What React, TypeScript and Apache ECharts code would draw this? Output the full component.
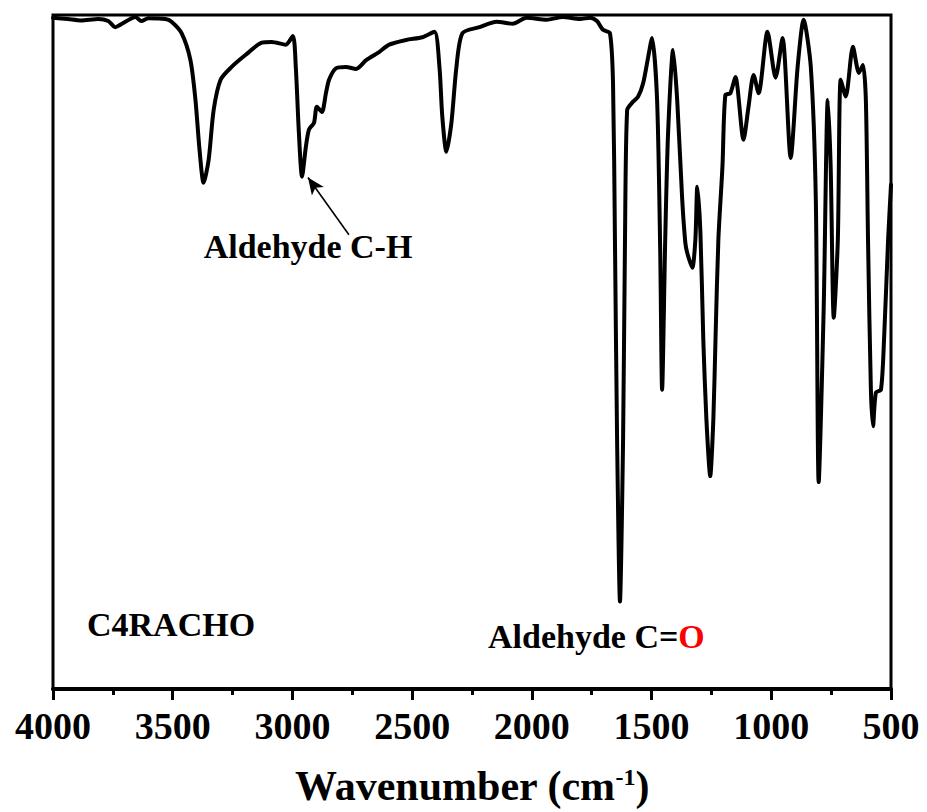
import React, { useEffect, useRef } from "react";
import * as echarts from "echarts";

const wavenumber = [
  4000, 3937, 3883, 3811, 3769, 3740, 3698, 3656, 3631, 3602, 3531, 3505, 3463, 3426, 3405, 3388,
  3371, 3350, 3329, 3300, 3254, 3195, 3128, 3086, 3028, 2998, 2986, 2973, 2960, 2944, 2931, 2910,
  2898, 2877, 2860, 2847, 2818, 2776, 2734, 2692, 2638, 2596, 2525, 2457, 2407, 2386, 2374, 2357,
  2336, 2315, 2290, 2219, 2147, 2080, 2022, 1938, 1871, 1799, 1757, 1728, 1703, 1674, 1661, 1653,
  1644, 1632, 1619, 1611, 1602, 1581, 1556, 1535, 1514, 1498, 1477, 1464, 1456, 1443, 1431, 1410,
  1393, 1372, 1359, 1351, 1330, 1317, 1309, 1296, 1284, 1271, 1255, 1242, 1233, 1221, 1204, 1192,
  1171, 1150, 1116, 1095, 1074, 1053, 1016, 982, 953, 919, 890, 865, 835, 814, 802, 781, 764, 752,
  739, 722, 710, 689, 659, 634, 617, 605, 596, 584, 575, 563, 542, 529, 512, 500,
];

const transmittance = [
  99.6, 99.4, 99.2, 99.4, 99.1, 98.2, 99.0, 99.7, 99.1, 99.5, 99.4, 99.0, 97.3, 93.3, 87.4, 80.0,
  75.1, 78.5, 85.9, 90.4, 92.3, 94.1, 95.9, 96.0, 95.6, 96.9, 92.3, 82.5, 76.0, 80.4, 83.0, 84.0,
  86.4, 85.6, 88.4, 90.4, 92.1, 92.3, 92.0, 93.3, 94.5, 95.6, 96.3, 96.7, 97.5, 92.3, 84.9, 79.7,
  84.0, 92.3, 97.3, 98.2, 99.0, 98.7, 99.6, 99.3, 99.7, 99.4, 99.6, 99.1, 97.8, 97.3, 89.9, 66.7,
  37.0, 13.0, 37.0, 66.7, 85.9, 87.0, 87.9, 89.9, 93.8, 96.6, 87.4, 65.2, 44.4, 66.7, 82.5, 94.8,
  87.4, 72.6, 66.2, 64.7, 62.5, 66.7, 74.5, 67.7, 51.9, 40.0, 31.6, 40.0, 51.9, 66.7, 77.5, 88.1,
  88.4, 90.8, 81.5, 86.4, 91.1, 88.4, 97.5, 90.7, 96.6, 78.8, 92.3, 99.3, 92.3, 72.6, 30.7, 56.7, 87.4, 77.5,
  55.1, 66.7, 90.4, 87.9, 95.3, 91.4, 92.6, 87.4, 66.7, 44.4, 39.0, 44.0, 44.4, 51.9, 66.7, 74.8,
];

const xTicks = [4000, 3500, 3000, 2500, 2000, 1500, 1000, 500];

// arrow annotation: tail and head in data coordinates
const arrowTail = [2764, 67.4];
const arrowHead = [2935, 75.9];

const FONT = '"Liberation Serif", "Times New Roman", serif';

export default function App() {
  const ref = useRef<HTMLDivElement>(null);

  useEffect(() => {
    if (!ref.current) return;
    document.body.style.margin = "0";
    const chart = echarts.init(ref.current, undefined, { renderer: "svg" });
    const data = wavenumber.map((w, i) => [w, transmittance[i]]);

    chart.setOption({
      animation: false,
      backgroundColor: "#fff",
      grid: {
        left: 53,
        right: 36,
        top: 15,
        bottom: 120,
        show: true,
        borderColor: "#000",
        borderWidth: 3,
        backgroundColor: "transparent",
      },
      xAxis: {
        type: "value",
        min: xTicks[xTicks.length - 1],
        max: xTicks[0],
        interval: 500,
        inverse: true,
        axisLine: { show: true, lineStyle: { color: "#000", width: 4 } },
        axisTick: { show: true, inside: false, length: 11, lineStyle: { color: "#000", width: 3 } },
        minorTick: { show: true, splitNumber: 2, length: 6, lineStyle: { color: "#000", width: 3 } },
        splitLine: { show: false },
        axisLabel: {
          color: "#000",
          fontFamily: FONT,
          fontWeight: "bold",
          fontSize: 38,
          margin: 18,
          formatter: (v: number) => String(v),
        },
        name: "Wavenumber (cm{sup|-1})",
        nameLocation: "middle",
        nameGap: 76,
        nameTextStyle: {
          color: "#000",
          fontFamily: FONT,
          fontWeight: "bold",
          fontSize: 42,
          rich: {
            sup: {
              color: "#000",
              fontFamily: FONT,
              fontWeight: "bold",
              fontSize: 24,
              verticalAlign: "top",
            },
          },
        },
      },
      yAxis: {
        type: "value",
        min: 0,
        max: 100,
        show: false,
      },
      series: [
        {
          type: "line",
          data,
          showSymbol: false,
          smooth: 0.25,
          lineStyle: { color: "#000", width: 4, join: "round", cap: "round" },
          markLine: {
            silent: true,
            symbol: ["none", "arrow"],
            symbolSize: [11, 17],
            label: { show: false },
            lineStyle: { color: "#000", width: 1.6, type: "solid" },
            data: [[{ coord: arrowTail }, { coord: arrowHead }]],
          },
        },
      ],
      graphic: [
        {
          type: "text",
          x: 308,
          y: 246,
          style: {
            text: "Aldehyde C-H",
            font: `bold 34px ${FONT}`,
            fill: "#000",
            textAlign: "center",
            textVerticalAlign: "middle",
          },
        },
        {
          type: "text",
          x: 87,
          y: 624,
          style: {
            text: "C4RACHO",
            font: `bold 34px ${FONT}`,
            fill: "#000",
            textAlign: "left",
            textVerticalAlign: "middle",
          },
        },
        {
          type: "text",
          x: 488,
          y: 636,
          style: {
            text: "{a|Aldehyde C=}{b|O}",
            textAlign: "left",
            textVerticalAlign: "middle",
            rich: {
              a: { font: `bold 34px ${FONT}`, fill: "#000" },
              b: { font: `bold 34px ${FONT}`, fill: "#ff0000" },
            },
          },
        },
      ],
    });

    return () => chart.dispose();
  }, []);

  return <div ref={ref} style={{ width: 927, height: 812 }} />;
}
